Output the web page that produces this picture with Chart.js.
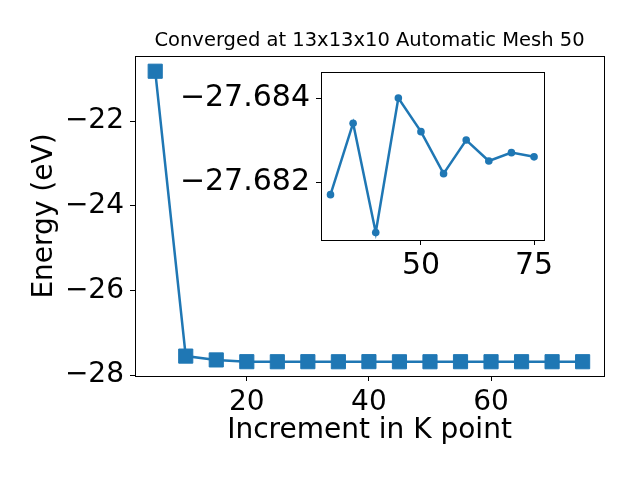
<!DOCTYPE html>
<html>
<head>
<meta charset="utf-8">
<script src="https://cdn.jsdelivr.net/npm/chart.js@4/dist/chart.umd.min.js"></script>
<style>
body{margin:0;background:#fff;}
#wrap{position:relative;width:640px;height:480px;}
#main{position:absolute;left:0;top:0;}
#inset{position:absolute;left:170px;top:60px;}
</style>
</head>
<body>
<div id="wrap">
<canvas id="main" width="640" height="480"></canvas>
<canvas id="inset" width="390" height="220"></canvas>
</div>
<script>
// main curve
var kPoints = [5,10,15,20,25,30,35,40,45,50,55,60,65,70,75];
var energy = [-20.82,-27.55,-27.64,-27.682,-27.683,-27.6817,-27.6834,-27.6808,-27.6840,-27.6832,-27.6822,-27.6830,-27.6825,-27.6827,-27.6826];
var xTicks = [20,40,60];
var yTicks = [-28,-26,-24,-22];

// inset (zoom on the converged part)
var insetK = [30,35,40,45,50,55,60,65,70,75];
var insetEnergy = [-27.6817,-27.6834,-27.6808,-27.6840,-27.6832,-27.6822,-27.6830,-27.6825,-27.6827,-27.6826];
var insetXTicks = [50,75];
var insetYTicks = [-27.684,-27.682];

var blue = '#1f77b4';
var font = 'DejaVu Sans';
Chart.defaults.font.family = font;
Chart.defaults.color = '#000';

function pts(xs, ys){
  return xs.map(function(x,i){ return {x:x, y:ys[i]}; });
}
function minus(s){ return String(s).replace('-', '\u2212'); }

var boxPlugin = {
  id: 'box',
  beforeDatasetsDraw: function(chart){
    var a = chart.chartArea, ctx = chart.ctx;
    ctx.save();
    ctx.fillStyle = '#fff';
    ctx.fillRect(a.left, a.top, a.right-a.left, a.bottom-a.top);
    ctx.restore();
  },
  afterDraw: function(chart){
    var a = chart.chartArea, ctx = chart.ctx;
    ctx.save();
    ctx.strokeStyle = '#000';
    ctx.lineWidth = 1;
    ctx.strokeRect(Math.round(a.left)+0.5, Math.round(a.top)+0.5, Math.round(a.right-a.left), Math.round(a.bottom-a.top));
    ctx.restore();
  }
};

var tickGrid = {display:true, drawOnChartArea:false, drawTicks:true, tickLength:5, color:'#000', tickColor:'#000', lineWidth:1};

new Chart(document.getElementById('main'), {
  type: 'line',
  data: {
    datasets: [{
      data: pts(kPoints, energy),
      borderColor: blue,
      backgroundColor: blue,
      borderWidth: 2.5,
      pointStyle: 'rect',
      pointRadius: 10,
      pointBorderWidth: 1,
      pointBorderColor: blue,
      tension: 0
    }]
  },
  options: {
    responsive: false,
    animation: false,
    devicePixelRatio: 1,
    layout: {padding: {left:0, right:36, top:0, bottom:0}},
    plugins: {
      legend: {display:false},
      tooltip: {enabled:false},
      title: {
        display: true,
        fullSize: false,
        text: 'Converged at 13x13x10 Automatic Mesh 50',
        font: {size:19.5, weight:'normal', family:font},
        color: '#000',
        padding: {top:29.3, bottom:3.3}
      }
    },
    scales: {
      x: {
        type: 'linear',
        min: 1.69, max: 78.5,
        border: {display:false},
        grid: tickGrid,
        afterBuildTicks: function(s){ s.ticks = xTicks.map(function(v){return {value:v};}); },
        afterFit: function(s){ s.height = 104; },
        ticks: {font:{size:28}, padding:5, maxRotation:0, callback:function(v){return minus(v);}},
        title: {display:true, text:'Increment in K point', font:{size:28}, padding:{top:0, bottom:32}}
      },
      y: {
        type: 'linear',
        min: -28.02, max: -20.46,
        border: {display:false},
        grid: tickGrid,
        afterBuildTicks: function(s){ s.ticks = yTicks.map(function(v){return {value:v};}); },
        afterFit: function(s){ s.width = 135; },
        ticks: {font:{size:28}, padding:6, callback:function(v){return minus(v);}},
        title: {display:true, text:'Energy (eV)', font:{size:28}, padding:{top:28, bottom:0}}
      }
    }
  },
  plugins: [boxPlugin]
});

new Chart(document.getElementById('inset'), {
  type: 'line',
  data: {
    datasets: [{
      data: pts(insetK, insetEnergy),
      borderColor: blue,
      backgroundColor: blue,
      borderWidth: 2.5,
      pointStyle: 'circle',
      pointRadius: 3.8,
      pointBorderWidth: 0,
      tension: 0
    }]
  },
  options: {
    responsive: false,
    animation: false,
    devicePixelRatio: 1,
    layout: {padding: {left:0, right:16, top:12, bottom:0}},
    plugins: {legend:{display:false}, tooltip:{enabled:false}, title:{display:false}},
    scales: {
      x: {
        type: 'linear',
        min: 27.9, max: 77.2,
        border: {display:false},
        grid: tickGrid,
        afterBuildTicks: function(s){ s.ticks = insetXTicks.map(function(v){return {value:v};}); },
        afterFit: function(s){ s.height = 40; s.paddingLeft = 0; s.paddingRight = 0; },
        ticks: {font:{size:30}, padding:3, maxRotation:0}
      },
      y: {
        type: 'linear',
        reverse: true,
        min: -27.68462, max: -27.68062,
        border: {display:false},
        grid: tickGrid,
        afterBuildTicks: function(s){ s.ticks = insetYTicks.map(function(v){return {value:v};}); },
        afterFit: function(s){ s.width = 151; s.paddingTop = 0; s.paddingBottom = 0; },
        ticks: {font:{size:30}, padding:6, callback:function(v){return minus(v.toFixed(3));}}
      }
    }
  },
  plugins: [boxPlugin]
});
</script>
</body>
</html>
